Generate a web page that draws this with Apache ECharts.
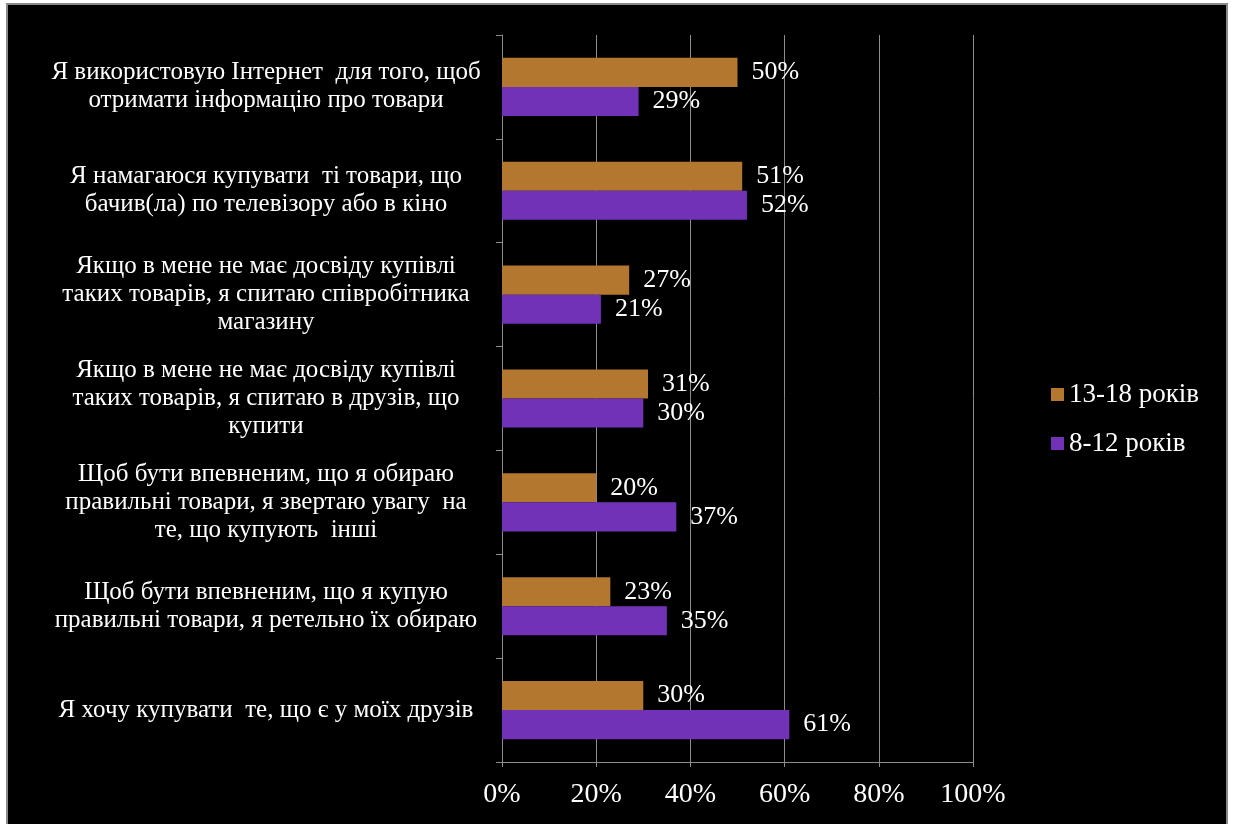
<!DOCTYPE html>
<html><head><meta charset="utf-8">
<script src="https://cdn.jsdelivr.net/npm/echarts@6/dist/echarts.min.js"></script>
<style>
html,body{margin:0;padding:0;background:#fff;}
#frame{position:absolute;left:6px;top:3px;width:1222px;height:830px;background:#000;border:2px solid #8a8a8a;box-sizing:border-box;}
#chart{position:absolute;left:0;top:0;width:1236px;height:824px;}
</style></head>
<body>
<div id="frame"></div>
<div id="chart"></div>
<script>
const categories = [
  "Я використовую Інтернет  для того, щоб\nотримати інформацію про товари",
  "Я намагаюся купувати  ті товари, що\nбачив(ла) по телевізору або в кіно",
  "Якщо в мене не має досвіду купівлі\nтаких товарів, я спитаю співробітника\nмагазину",
  "Якщо в мене не має досвіду купівлі\nтаких товарів, я спитаю в друзів, що\nкупити",
  "Щоб бути впевненим, що я обираю\nправильні товари, я звертаю увагу  на\nте, що купують  інші",
  "Щоб бути впевненим, що я купую\nправильні товари, я ретельно їх обираю",
  "Я хочу купувати  те, що є у моїх друзів"
];
const seriesNames = ["13-18 років", "8-12 років"];
const teen = [50, 51, 27, 31, 20, 23, 30];
const kids = [29, 52, 21, 30, 37, 35, 61];
const xTicks = [0, 20, 40, 60, 80, 100];

const font = "'Liberation Serif','Times New Roman',serif";
const chart = echarts.init(document.getElementById('chart'), null, {renderer:'canvas'});
const labelStyle = {show:true, position:'right', distance:14, color:'#fff', fontFamily:font, fontSize:26, formatter: p => p.value + '%'};
chart.setOption({
  backgroundColor:'transparent',
  animation:false,
  grid:{left:502, right:263, top:35, bottom:62, containLabel:false},
  legend:{
    orient:'vertical', left:1046, top:376, itemWidth:13, itemHeight:13, itemGap:22,
    icon:'rect',
    textStyle:{color:'#fff', fontFamily:font, fontSize:27},
    data:seriesNames
  },
  xAxis:{
    type:'value', min:0, max:100, interval:20,
    axisLine:{show:true, lineStyle:{color:'#8c8c8c', width:1}},
    axisTick:{show:true, length:5, lineStyle:{color:'#8c8c8c'}},
    splitLine:{show:true, lineStyle:{color:'#8c8c8c', width:1}},
    axisLabel:{color:'#fff', fontFamily:font, fontSize:28, margin:19,
      formatter: v => xTicks.includes(v) ? v + '%' : ''}
  },
  yAxis:{
    type:'category', inverse:true, data:categories,
    axisLine:{show:true, lineStyle:{color:'#8c8c8c', width:1}},
    axisTick:{show:true, length:6, lineStyle:{color:'#8c8c8c'}},
    axisLabel:{color:'#fff', fontFamily:font, fontSize:25, lineHeight:28, align:'center', margin:236}
  },
  series:[
    {name:seriesNames[0], type:'bar', data:teen, itemStyle:{color:'#b3772f'},
     barGap:'0%', barCategoryGap:'44%', label:labelStyle},
    {name:seriesNames[1], type:'bar', data:kids, itemStyle:{color:'#7232b8'},
     barGap:'0%', barCategoryGap:'44%', label:labelStyle}
  ]
});
</script>
</body></html>
